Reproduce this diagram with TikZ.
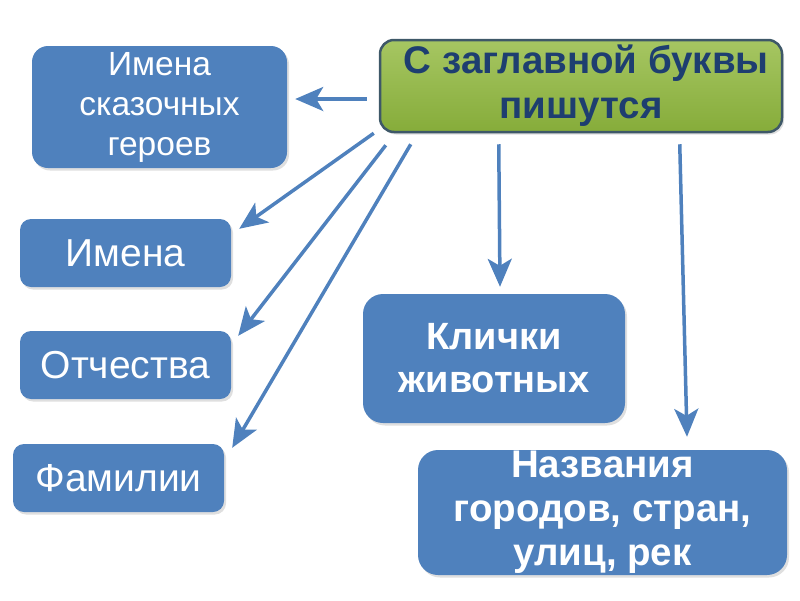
\documentclass[tikz,border=0pt]{standalone}
\usepackage{fontspec}
\setmainfont{Liberation Sans}
\usetikzlibrary{arrows.meta,shadows,calc}
\definecolor{boxblue}{RGB}{79,129,189}
\definecolor{grtop}{RGB}{166,198,98}
\definecolor{grbot}{RGB}{134,172,58}
\definecolor{grline}{RGB}{62,88,104}
\definecolor{navy}{RGB}{30,62,112}
\begin{document}
\begin{tikzpicture}[x=1pt,y=-1pt,
  bbox/.style={rectangle, rounded corners=#1, fill=boxblue, draw=none, text=white,
    align=center, inner sep=0pt,
    drop shadow={opacity=0.25,shadow xshift=2pt,shadow yshift=-2.5pt}},
  bbox/.default=11pt,
  topbox/.style={rectangle, rounded corners=14pt, top color=grtop, bottom color=grbot,
    draw=grline, line width=2.5pt, text=navy, align=center, inner sep=0pt,
    drop shadow={opacity=0.25,shadow xshift=2pt,shadow yshift=-2.5pt}},
  conn/.style={draw=boxblue, line width=3.5pt,
    -{Stealth[length=28pt,width=24pt,inset=7pt]}},
  smallfont/.style={font=\fontsize{39}{46}\selectfont},
  heroesfont/.style={font=\fontsize{33.5}{40}\selectfont},
  boldfont/.style={font=\fontsize{38}{43}\selectfont\bfseries},
]
\useasboundingbox (0,0) rectangle (800,600);

\node[topbox, minimum width=402pt, minimum height=92pt,
  font=\fontsize{38.5}{45}\selectfont\bfseries] (top) at (581,86) {\ С заглавной буквы\\пишутся};

\node[bbox=16pt, minimum width=255pt, minimum height=122pt, heroesfont] (hero) at (159.5,107)
  {Имена\\сказочных\\героев};
\node[bbox, minimum width=211pt, minimum height=68pt, smallfont] (imena) at (125.5,253) {Имена};
\node[bbox, minimum width=211pt, minimum height=68pt, smallfont] (otch) at (125.5,365) {Отчества};
\node[bbox, minimum width=211pt, minimum height=68pt, smallfont] (fam) at (118.5,478) {Фамилии};

\node[bbox=20pt, minimum width=262pt, minimum height=129pt, boldfont] (klich) at (494,358.5)
  {Клички\\животных};
\node[bbox=20pt, minimum width=369pt, minimum height=125pt] (nazv) at (602.5,512.5) {};
\node[text=white, align=center, inner sep=0pt, font=\fontsize{38.5}{44}\selectfont\bfseries]
  (nazvt) at (nazv.center) {Названия\\городов, стран,\\улиц, рек};

\draw[conn] ($(top.west)+(-12,13)$) -- ($(hero.east)+(8,-8)$);
\draw[conn] ($(top.south west)+(-5,0)$) -- ($(imena.north east)+(8,10)$);
\draw[conn] ($(top.south west)+(7,12)$) -- ($(otch.north east)+(7,5)$);
\draw[conn] ($(top.south west)+(32,11)$) -- ($(fam.north east)+(8,4)$);
\draw[conn] ($(top.south west)+(120,11)$) -- ($(klich.north)+(6,-7)$);
\draw[conn] ($(top.south west)+(301,11)$) -- ($(nazv.north)+(84.5,-13)$);
\end{tikzpicture}
\end{document}
